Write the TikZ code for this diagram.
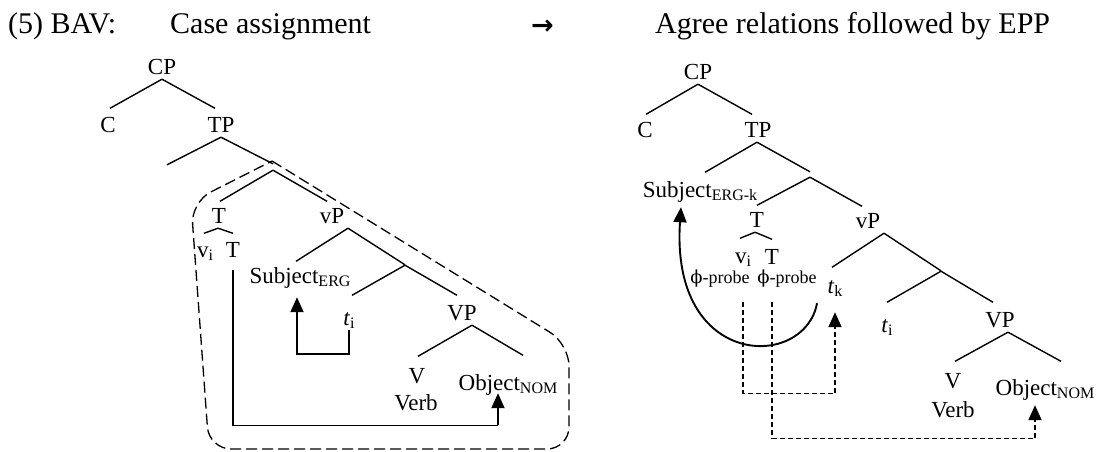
\documentclass[tikz,border=0pt]{standalone}
\usepackage{fontspec}
\setmainfont{Liberation Serif}
\newfontfamily\arrowfont{DejaVu Sans}
\newfontfamily\phifont{DejaVu Serif}
\usetikzlibrary{arrows.meta}
\newcommand{\catsub}[1]{\raisebox{-3.5pt}{\fontsize{16}{16}\selectfont #1}}

\begin{document}
\begin{tikzpicture}[x=1pt,y=-1pt]
    \tikzstyle{heading}=[anchor=base west,inner sep=0pt,font=\fontsize{30}{36}\selectfont]
    \tikzstyle{cat}=[anchor=base,inner xsep=2pt,inner ysep=5pt,text height=16.5pt,text depth=0pt,font=\fontsize{23}{27}\selectfont]
    \tikzstyle{probe}=[cat,font=\fontsize{18}{22}\selectfont]
    \tikzstyle{knot}=[inner sep=0pt,minimum size=0pt]
    \tikzstyle{branch}=[line width=1.4pt]
    \tikzstyle{link}=[line width=1.1pt]
    \tikzstyle{move}=[line width=1.9pt,-{Triangle[width=13pt,length=15pt]}]
    \tikzstyle{agree}=[line width=1.4pt,dash pattern=on 5pt off 3pt]
    \tikzstyle{casezone}=[line width=1.3pt,dash pattern=on 11pt off 5pt,rounded corners=22pt]
    \useasboundingbox (0,0) rectangle (1098,451);

    % heading line
    \node[heading] (num) at (8,33) {(5) BAV:};
    \node[heading] (case) at (170,33) {Case assignment};
    \node[heading,font=\arrowfont\bfseries\fontsize{27}{30}\selectfont] (arr) at (531,34) {→};
    \node[heading] (agree) at (655,33) {Agree relations followed by EPP};

    % left tree
    \foreach \name/\x/\y/\txt in {lCP/162/74/CP, lC/108/132/C, lTP/221/132/TP,
            lT/219/223/T, lvi/205/257/v\catsub{i}, lT2/233/257/T, lvP/332/223/vP,
            lSubj/300/283/Subject\catsub{ERG}, lti/349/325/\textit{t}\catsub{i},
            lVP/462/320/VP, lV/417/383/V, lVerb/416/410/Verb, lObj/508/390/Object\catsub{NOM}}
        \node[cat] (\name) at (\x,\y) {\txt};
    \node[knot] (lSpec) at (167,165) {};
    \node[knot,minimum height=6pt] (lTb) at (273,167) {};
    \node[knot] (lvb) at (405,265) {};

    % right tree
    \foreach \name/\x/\y/\txt in {rCP/698/79/CP, rC/645/137/C, rTP/758/137/TP,
            rSubj/700/197/Subject\catsub{ERG-k}, rT/757/227/T, rvi/743/263/v\catsub{i},
            rT2/772/264/T, rvP/868/228/vP, rtk/835/293/\textit{t}\catsub{k},
            rti/887/332/\textit{t}\catsub{i}, rVP/1000/327/VP, rV/953/388/V,
            rVerb/953/417/Verb, rObj/1045/395/Object\catsub{NOM}}
        \node[cat] (\name) at (\x,\y) {\txt};
    \node[probe] (rphia) at (720,283) {{\phifont ϕ}-probe};
    \node[probe] (rphib) at (787,283) {{\phifont ϕ}-probe};
    \node[knot,minimum height=5pt] (rTb) at (810,174.5) {};
    \node[knot] (rvb) at (941,271) {};

    \foreach \from/\fx/\to/\tx/\ty in {lCP/0/lC/2/2, lCP/0/lTP/-6/2, lTP/0/lSpec/0/0,
            lTP/0/lTb/0/0, lTb/0/lT/1/0, lTb/0/lvP/-5/0, lT/-1/lvi/-1/2, lT/-1/lT2/0/2,
            lvP/16/lSubj/-4/0, lvP/16/lvb/0/0, lvb/0/lti/3/8, lvb/0/lVP/-5/3,
            lVP/10/lV/1/5, lVP/10/lObj/15/13,
            rCP/0/rC/1/1, rCP/0/rTP/-6/1, rTP/-1/rSubj/5/3, rTP/-1/rTb/0/0,
            rTb/0/rT/0/0, rTb/0/rvP/-6/0, rT/-2/rvi/-3/3, rT/-2/rT2/0/3,
            rvP/16/rtk/-3/4, rvP/16/rvb/0/0, rvb/0/rti/0/8, rvb/0/rVP/-7/3,
            rVP/8/rV/2/5, rVP/8/rObj/16/12}
        \draw[branch] ([xshift=\fx pt]\from.south) -- ([xshift=\tx pt,yshift=\ty pt]\to.north);

    % case domain
    \draw[casezone] (272,161) -- (569,344) -- (569,449) -- (209,449) -- (191,202) -- (272,161);

    % case assignment
    \draw[move,shorten >=9pt] (lti.south) -- ++(0,24) -| ([xshift=-3pt]lSubj.south);
    \path ([xshift=-10pt]lObj.south) ++(0,30) coordinate (lknee);
    \draw[link] (lT2.south) ++(0,8) |- (lknee);
    \draw[move,shorten >=-2pt] (lknee) -- ([xshift=-10pt]lObj.south);

    % EPP movement
    \draw[move] ([xshift=-18pt,yshift=-5pt]rtk.south) .. controls (805,370) and (670,370) .. ([xshift=-19pt,yshift=-5pt]rSubj.south);

    % agree relations
    \path (rvi |- rphia.south) ++(0,14) coordinate (rdA);
    \path (rtk.south) ++(0,95) coordinate (rkA);
    \draw[agree] (rdA) |- (rkA);
    \draw[agree,move,shorten >=14pt] (rkA) -- (rtk.south);
    \path (rT2 |- rphib.south) ++(0,14) coordinate (rdB);
    \path ([xshift=-10pt]rObj.south) ++(0,38) coordinate (rkB);
    \draw[agree] (rdB) |- (rkB);
    \draw[agree,move,shorten >=5pt] (rkB) -- ([xshift=-10pt]rObj.south);
\end{tikzpicture}
\end{document}
